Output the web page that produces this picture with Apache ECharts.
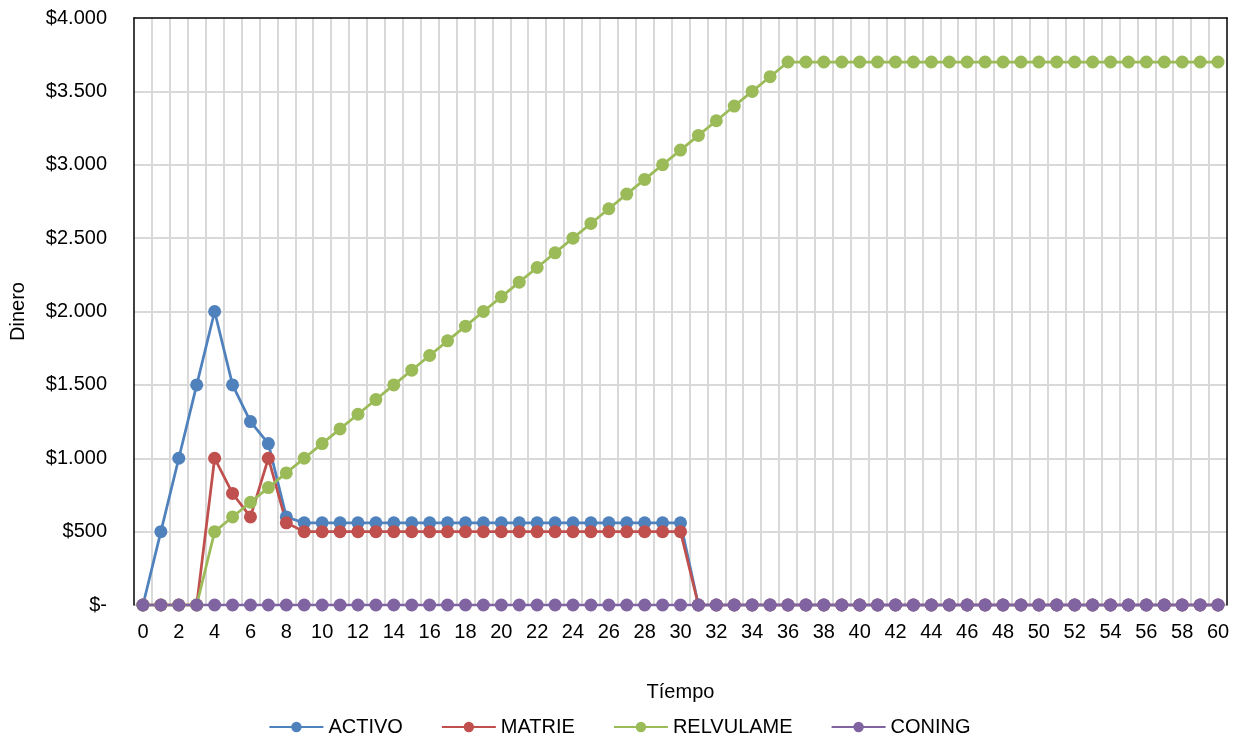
<!DOCTYPE html>
<html>
<head>
<meta charset="utf-8">
<script src="https://cdn.jsdelivr.net/npm/echarts@6/dist/echarts.min.js"></script>
<style>
html,body{margin:0;padding:0;background:#fff;}
#chart{width:1239px;height:740px;}
</style>
</head>
<body>
<div id="chart"></div>
<script>
// Periods 0..60
const periods = Array.from({length: 61}, (_, i) => String(i));

const activo = [0, 500, 1000, 1500, 2000, 1500, 1250, 1100, 600,
  560, 560, 560, 560, 560, 560, 560, 560, 560, 560, 560, 560,
  560, 560, 560, 560, 560, 560, 560, 560, 560, 560,
  0, 0, 0, 0, 0, 0, 0, 0, 0, 0, 0, 0, 0, 0, 0, 0, 0, 0, 0, 0,
  0, 0, 0, 0, 0, 0, 0, 0, 0, 0];

const matrie = [0, 0, 0, 0, 1000, 760, 600, 1000, 560,
  500, 500, 500, 500, 500, 500, 500, 500, 500, 500, 500, 500,
  500, 500, 500, 500, 500, 500, 500, 500, 500, 500,
  0, 0, 0, 0, 0, 0, 0, 0, 0, 0, 0, 0, 0, 0, 0, 0, 0, 0, 0, 0,
  0, 0, 0, 0, 0, 0, 0, 0, 0, 0];

const relvulame = [0, 0, 0, 0, 500, 600, 700, 800, 900, 1000,
  1100, 1200, 1300, 1400, 1500, 1600, 1700, 1800, 1900, 2000,
  2100, 2200, 2300, 2400, 2500, 2600, 2700, 2800, 2900, 3000,
  3100, 3200, 3300, 3400, 3500, 3600, 3700, 3700, 3700, 3700,
  3700, 3700, 3700, 3700, 3700, 3700, 3700, 3700, 3700, 3700,
  3700, 3700, 3700, 3700, 3700, 3700, 3700, 3700, 3700, 3700, 3700];

const coning = Array(61).fill(0);

const seriesNames = ['ACTIVO', 'MATRIE', 'RELVULAME', 'CONING'];
const seriesData = [activo, matrie, relvulame, coning];
const seriesColors = ['#4F81BD', '#C0504D', '#9BBB59', '#8064A2'];

const FONT = 'Liberation Sans, Arial, sans-serif';
const FS = 20;
const FRAME = {show: true, onZero: false, lineStyle: {color: '#000', width: 1.5}};

function money(v) {
  if (v === 0) return '$-';
  return '$' + v.toLocaleString('de-DE');
}

const chart = echarts.init(document.getElementById('chart'));
chart.setOption({
  animation: false,
  backgroundColor: '#fff',
  grid: {
    left: 134, right: 12, top: 18, bottom: 135,
    containLabel: false,
    outerBoundsMode: 'none'
  },
  xAxis: [{
    type: 'category',
    data: periods,
    boundaryGap: true,
    name: 'Tíempo',
    nameLocation: 'middle',
    nameGap: 77,
    nameTextStyle: {fontFamily: FONT, fontSize: FS, color: '#000'},
    axisLine: {show: false},
    axisTick: {show: false},
    axisLabel: {interval: 1, fontFamily: FONT, fontSize: FS, color: '#000', margin: 17},
    splitLine: {show: true, interval: 0, showMinLine: false, showMaxLine: false,
      lineStyle: {color: '#d9d9d9', width: 2}}
  }, {
    // top edge of the plot frame
    type: 'category',
    data: periods,
    position: 'top',
    z: 1,
    axisLine: FRAME,
    axisTick: {show: false},
    axisLabel: {show: false},
    splitLine: {show: false}
  }],
  yAxis: [{
    type: 'value',
    min: 0, max: 4000, interval: 500,
    name: 'Dinero',
    nameLocation: 'middle',
    nameGap: 106,
    nameTextStyle: {fontFamily: FONT, fontSize: FS, color: '#000'},
    axisLine: FRAME,
    axisTick: {show: false},
    axisLabel: {fontFamily: FONT, fontSize: FS, color: '#000', margin: 27, formatter: money},
    splitLine: {show: true, showMaxLine: false, lineStyle: {color: '#d9d9d9', width: 2}}
  }, {
    // right edge of the plot frame
    type: 'value',
    min: 0, max: 4000, interval: 500,
    position: 'right',
    z: 1,
    axisLine: FRAME,
    axisTick: {show: false},
    axisLabel: {show: false},
    splitLine: {show: false}
  }],
  legend: {
    top: 712,
    left: 'center',
    itemWidth: 54,
    itemHeight: 13,
    itemGap: 38,
    textStyle: {fontFamily: FONT, fontSize: FS, color: '#000'},
    data: seriesNames
  },
  series: seriesNames.map((name, i) => ({
    name: name,
    type: 'line',
    data: seriesData[i],
    color: seriesColors[i],
    symbol: 'circle',
    symbolSize: 13,
    showSymbol: true,
    showAllSymbol: true,
    lineStyle: {width: 2.75, color: seriesColors[i]},
    itemStyle: {color: seriesColors[i]}
  }))
});
</script>
</body>
</html>
